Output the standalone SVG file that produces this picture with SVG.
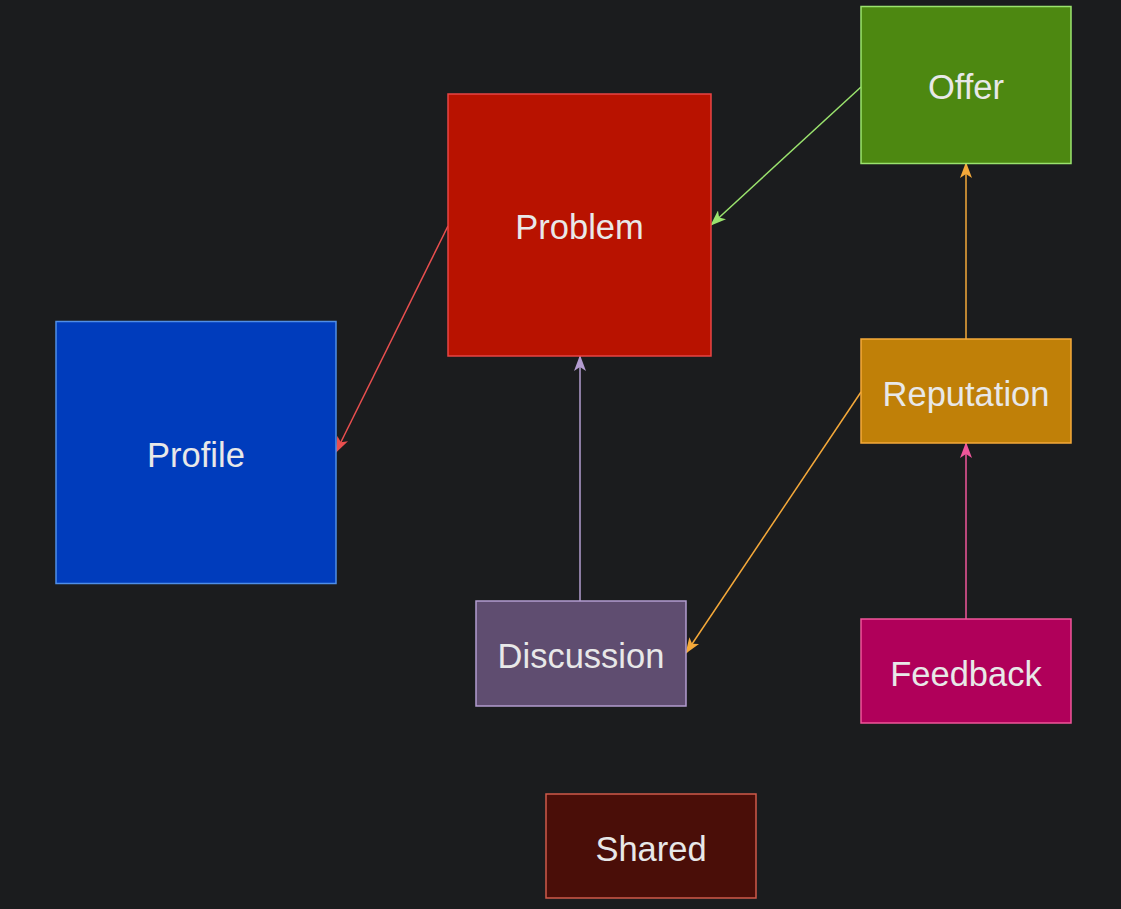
<svg xmlns="http://www.w3.org/2000/svg" width="1121" height="909" viewBox="0 0 1121 909">
<defs>
<style>
.n rect{stroke-width:1.5}
.n text{font-family:"Liberation Sans",Arial,sans-serif;font-size:34.5px;fill:#e8e8e8;text-anchor:middle}
.c line{stroke-width:1.5;fill:none}
</style>
<marker id="mG" viewBox="0 0 16 12" refX="15" refY="6" markerWidth="16" markerHeight="12" markerUnits="userSpaceOnUse" orient="auto"><path d="M0,0 L16,6 L0,12 L4,6 Z" fill="#9be36e"/></marker>
<marker id="mR" viewBox="0 0 16 12" refX="15" refY="6" markerWidth="16" markerHeight="12" markerUnits="userSpaceOnUse" orient="auto"><path d="M0,0 L16,6 L0,12 L4,6 Z" fill="#ea4f4f"/></marker>
<marker id="mL" viewBox="0 0 16 12" refX="15" refY="6" markerWidth="16" markerHeight="12" markerUnits="userSpaceOnUse" orient="auto"><path d="M0,0 L16,6 L0,12 L4,6 Z" fill="#b39cd0"/></marker>
<marker id="mO" viewBox="0 0 16 12" refX="15" refY="6" markerWidth="16" markerHeight="12" markerUnits="userSpaceOnUse" orient="auto"><path d="M0,0 L16,6 L0,12 L4,6 Z" fill="#f5a93a"/></marker>
<marker id="mP" viewBox="0 0 16 12" refX="15" refY="6" markerWidth="16" markerHeight="12" markerUnits="userSpaceOnUse" orient="auto"><path d="M0,0 L16,6 L0,12 L4,6 Z" fill="#f0569b"/></marker>
</defs>
<rect x="0" y="0" width="1121" height="909" fill="#1b1c1e"/>
<g id="connectors" class="c">
<line x1="861" y1="87" x2="711" y2="225" stroke="#9be36e" marker-end="url(#mG)"/>
<line x1="448" y1="226" x2="336" y2="452" stroke="#ea4f4f" marker-end="url(#mR)"/>
<line x1="580" y1="601" x2="580" y2="356" stroke="#b39cd0" marker-end="url(#mL)"/>
<line x1="966" y1="339" x2="966" y2="163" stroke="#f5a93a" marker-end="url(#mO)"/>
<line x1="861" y1="392" x2="686" y2="653" stroke="#f5a93a" marker-end="url(#mO)"/>
<line x1="966" y1="619" x2="966" y2="443" stroke="#f0569b" marker-end="url(#mP)"/>
</g>
<g id="offer" class="n"><rect x="861" y="6.5" width="210" height="157" fill="#4d8811" stroke="#9be36e"/><text x="966" y="99">Offer</text></g>
<g id="problem" class="n"><rect x="448" y="94" width="263" height="262" fill="#b81200" stroke="#e84444"/><text x="579.5" y="239">Problem</text></g>
<g id="profile" class="n"><rect x="56" y="321.5" width="280" height="262" fill="#003cbc" stroke="#4f8ee8"/><text x="196" y="467">Profile</text></g>
<g id="reputation" class="n"><rect x="861" y="339" width="210" height="104" fill="#c08008" stroke="#f5a93a"/><text x="966" y="406">Reputation</text></g>
<g id="discussion" class="n"><rect x="476" y="601" width="210" height="105" fill="#5f4d70" stroke="#b39cd0"/><text x="581" y="668">Discussion</text></g>
<g id="feedback" class="n"><rect x="861" y="619" width="210" height="104" fill="#b0005a" stroke="#f0569b"/><text x="966" y="686">Feedback</text></g>
<g id="shared" class="n"><rect x="546" y="794" width="210" height="104" fill="#4a0e08" stroke="#d05a4a"/><text x="651" y="861">Shared</text></g>
</svg>
